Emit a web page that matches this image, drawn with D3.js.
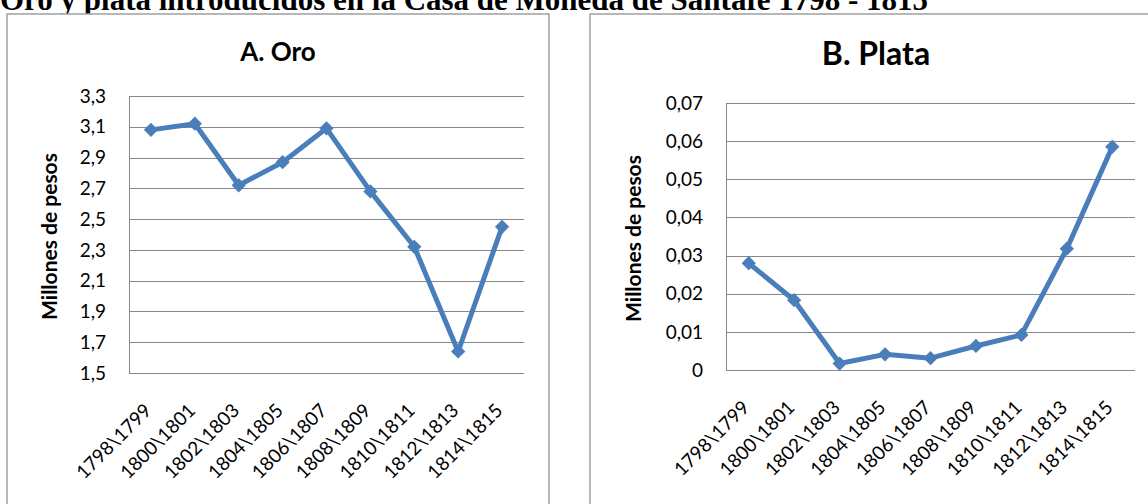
<!DOCTYPE html>
<html lang="es">
<head>
<meta charset="UTF-8">
<title>Oro y plata - Casa de Moneda de Santafe</title>
<script src="https://d3js.org/d3.v7.min.js"></script>
<style>
    body { margin: 0; background: #ffffff; overflow: hidden; }
    svg { display: block; }
    .main-title { font-family: "Liberation Serif", "Times New Roman", serif; font-weight: bold; font-size: 31px; }
    .chart-title { font-family: Lato, "Open Sans", sans-serif; font-weight: bold; }
    .axis-title { font-family: Lato, "Open Sans", sans-serif; font-weight: bold; font-size: 21px; }
    .tick-label { font-family: Lato, "Open Sans", sans-serif; fill: #000; }
    .grid line { stroke: #878787; stroke-width: 1; shape-rendering: crispEdges; }
    .frame { fill: #fff; stroke: #a0a0a0; stroke-width: 1.5; }
</style>
</head>
<body>
<svg id="page" width="1148" height="504"></svg>
<script>
// periods on the x axis
const periods = ["1798\\1799", "1800\\1801", "1802\\1803", "1804\\1805", "1806\\1807",
                 "1808\\1809", "1810\\1811", "1812\\1813", "1814\\1815"];

// millones de pesos
const oro = [3.08, 3.12, 2.72, 2.87, 3.09, 2.68, 2.32, 1.64, 2.45];
const plata = [0.028, 0.0183, 0.0017, 0.0041, 0.0031, 0.0063, 0.0092, 0.0318, 0.0585];

// y tick values
const oroTicks = [1.5, 1.7, 1.9, 2.1, 2.3, 2.5, 2.7, 2.9, 3.1, 3.3];
const plataTicks = [0, 0.01, 0.02, 0.03, 0.04, 0.05, 0.06, 0.07];

const mainTitle = "Oro y plata introducidos en la Casa de Moneda de Santafe 1798 - 1815";

const es = d3.formatLocale({ decimal: ",", thousands: ".", grouping: [3], currency: ["$", ""] });

const svg = d3.select("#page");

svg.append("text")
    .attr("class", "main-title")
    .attr("x", 0)
    .attr("y", 10)
    .text(mainTitle);

function drawChart(cfg) {
    const g = svg.append("g");

    // outer chart frame
    g.append("rect")
        .attr("class", "frame")
        .attr("x", cfg.frame[0])
        .attr("y", cfg.frame[1])
        .attr("width", cfg.frame[2])
        .attr("height", cfg.frame[3]);

    g.append("text")
        .attr("class", "chart-title")
        .attr("x", cfg.frame[0] + cfg.frame[2] / 2)
        .attr("y", cfg.titleY)
        .attr("text-anchor", "middle")
        .style("font-size", cfg.titleSize + "px")
        .text(cfg.title);

    const x = d3.scaleBand()
        .domain(periods)
        .range([cfg.left, cfg.right]);

    const y = d3.scaleLinear()
        .domain(cfg.domain)
        .range([cfg.bottom, cfg.top]);

    // horizontal gridlines
    g.append("g")
        .attr("class", "grid")
        .attr("transform", `translate(${cfg.left},0)`)
        .call(d3.axisLeft(y).tickValues(cfg.ticks).tickSize(-(cfg.right - cfg.left)).tickFormat(""))
        .call(a => a.select(".domain").remove());

    // y axis line
    g.append("line")
        .attr("x1", cfg.left).attr("x2", cfg.left)
        .attr("y1", y(cfg.domain[1])).attr("y2", y(cfg.domain[0]))
        .attr("stroke", "#878787")
        .attr("shape-rendering", "crispEdges");

    // y tick labels
    g.selectAll(".ylab")
        .data(cfg.ticks)
        .enter()
        .append("text")
        .attr("class", "tick-label")
        .style("font-size", "19px")
        .attr("x", cfg.left - 23)
        .attr("y", d => y(d))
        .attr("dy", "0.35em")
        .attr("text-anchor", "end")
        .text(cfg.format);

    // x tick labels, rotated
    g.selectAll(".xlab")
        .data(periods)
        .enter()
        .append("text")
        .attr("class", "tick-label")
        .style("font-size", "19px")
        .attr("text-anchor", "end")
        .attr("dy", "0.35em")
        .attr("transform", d => `translate(${x(d) + x.bandwidth() / 2 - 3},${cfg.bottom + 34}) rotate(-45)`)
        .text(d => d);

    g.append("text")
        .attr("class", "axis-title")
        .attr("text-anchor", "middle")
        .attr("transform", `translate(${cfg.yTitleX},${(cfg.top + cfg.bottom) / 2 + 2}) rotate(-90)`)
        .text("Millones de pesos");

    const line = d3.line()
        .x((d, i) => x(periods[i]) + x.bandwidth() / 2)
        .y(d => y(d));

    g.append("path")
        .datum(cfg.values)
        .attr("fill", "none")
        .attr("stroke", "#4a7ebb")
        .attr("stroke-width", 5)
        .attr("stroke-linejoin", "round")
        .attr("d", line);

    g.selectAll(".marker")
        .data(cfg.values)
        .enter()
        .append("path")
        .attr("d", d3.symbol().type(d3.symbolDiamond2).size(130))
        .attr("transform", (d, i) => `translate(${x(periods[i]) + x.bandwidth() / 2},${y(d)})`)
        .attr("fill", "#4a7ebb");
}

drawChart({
    frame: [7, 14, 542, 520],
    title: "A. Oro",
    titleSize: 26,
    titleY: 61,
    left: 129, right: 524, top: 96, bottom: 373,
    domain: [1.5, 3.3],
    ticks: oroTicks,
    format: es.format(".1f"),
    yTitleX: 57,
    values: oro
});

drawChart({
    frame: [590, 14, 572, 520],
    title: "B. Plata",
    titleSize: 32,
    titleY: 65,
    left: 726, right: 1135, top: 103, bottom: 370,
    domain: [0, 0.07],
    ticks: plataTicks,
    format: d => d === 0 ? "0" : es.format(".2f")(d),
    yTitleX: 641,
    values: plata
});
</script>
</body>
</html>
